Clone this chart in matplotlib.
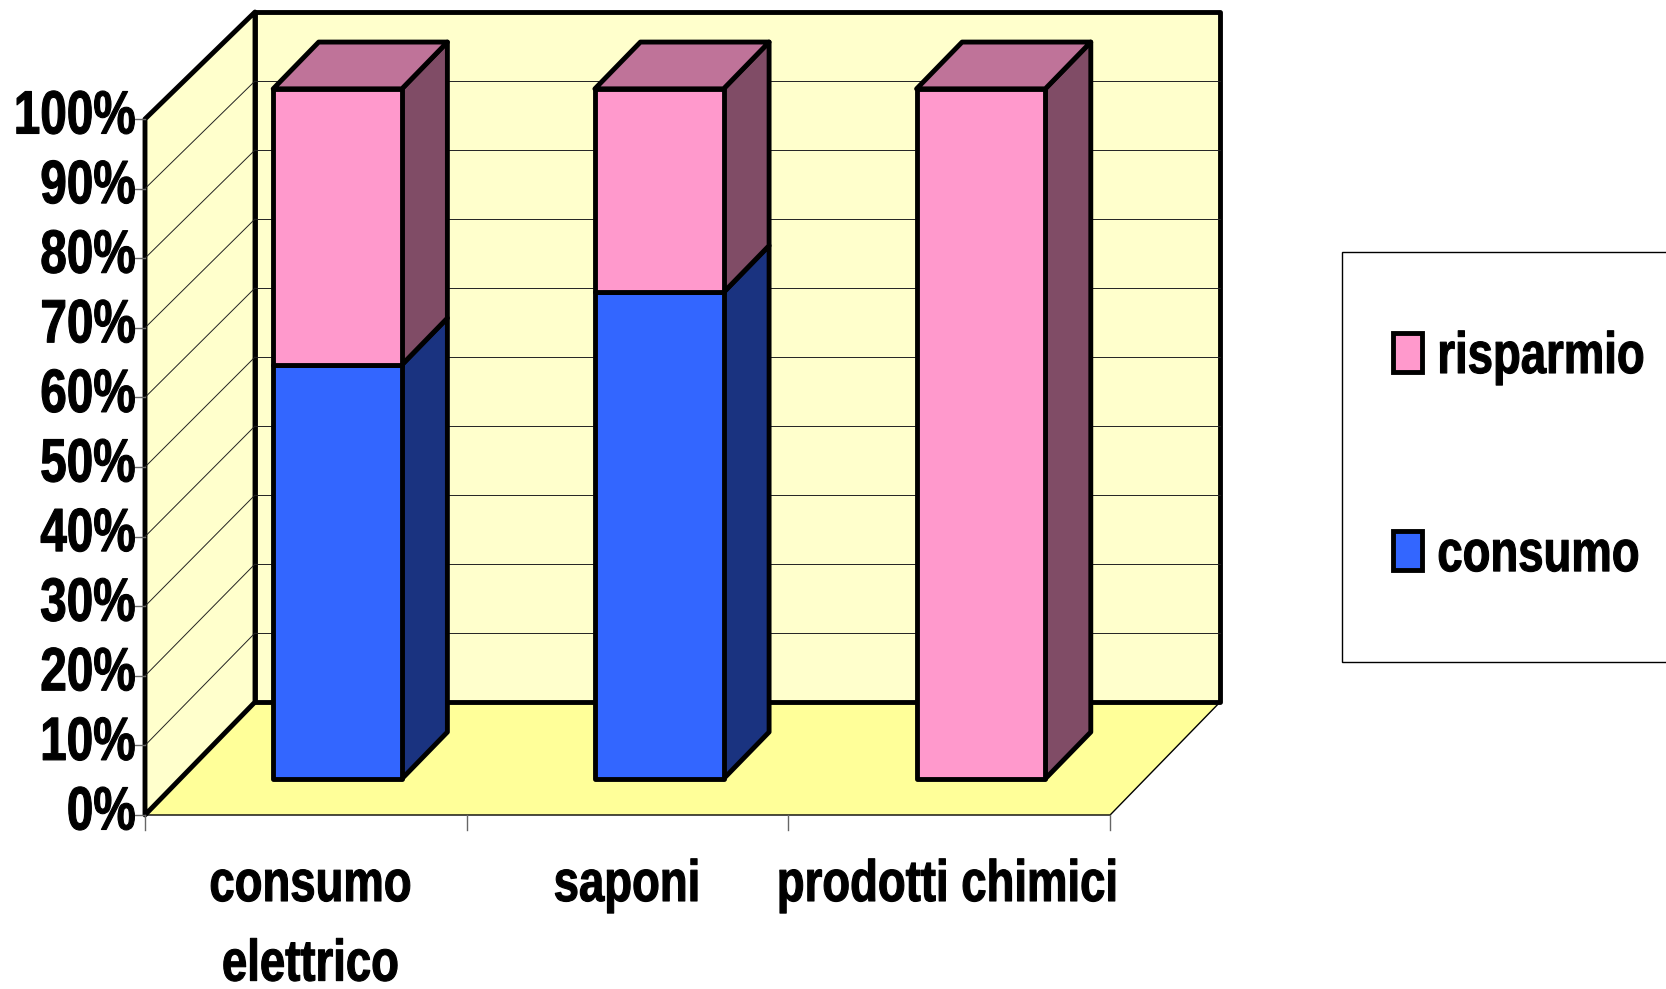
import matplotlib
matplotlib.use('Agg')
import matplotlib.pyplot as plt
from matplotlib.patches import Polygon, Rectangle, Patch
from matplotlib.patheffects import AbstractPathEffect
from matplotlib.transforms import Affine2D

plt.rcParams['font.family'] = ['Liberation Sans']
plt.rcParams['font.weight'] = 'bold'

categories = ['consumo\nelettrico', 'saponi', 'prodotti chimici']
consumo = [60, 70.5, 0]
risparmio = [40, 29.5, 100]
y_ticks = [0, 10, 20, 30, 40, 50, 60, 70, 80, 90, 100]
series_names = ['consumo', 'risparmio']
label_shift = [5, 0, -1]

WALL = '#FFFFCC'
FLOOR = '#FFFF99'
FRONT_COLORS = ['#3366FF', '#FF99CC']
SIDE_COLORS = ['#1A3380', '#804C66']
TOP_COLOR = '#BF7399'

# oblique projection, everything is in figure pixels
X0, Y0 = 145, 815
CAT_W = 321.7
UNIT = 6.9
UNIT_FRONT = 6.96
DX, DY = 110, 113
BAR_W = 0.4
BAR_Z0, BAR_Z1 = 0.32, 0.734
THICK = 3.5


class Squeeze(AbstractPathEffect):
    # the reference font is narrower and heavier than Liberation Sans
    def __init__(self, sx, align='left', bold=0.8):
        super().__init__()
        self.sx = sx
        self.bold = bold
        self.k = {'left': 0, 'center': 0.5, 'right': 1}[align]

    def draw_path(self, renderer, gc, tpath, affine, rgbFace=None):
        shift = self.k * tpath.get_extents().x1 * (1 - self.sx)
        tr = Affine2D().scale(self.sx, 1).translate(shift, 0) + affine
        gc0 = renderer.new_gc()
        gc0.copy_properties(gc)
        gc0.set_linewidth(self.bold)
        renderer.draw_path(gc0, tpath, tr, rgbFace)
        gc0.restore()


def proj(x, y, z):
    unit = UNIT_FRONT if z == 0 else UNIT
    return X0 + x * CAT_W + z * DX, Y0 - y * unit - z * DY


def face(ax, pts, color, lw=THICK, ec='black', z=2):
    ax.add_patch(Polygon([proj(*p) for p in pts], closed=True, fc=color, ec=ec,
                         lw=lw, joinstyle='round', zorder=z))


def line(ax, a, b, lw=0.7, color='#222222', z=1.5):
    pa, pb = proj(*a), proj(*b)
    ax.plot([pa[0], pb[0]], [pa[1], pb[1]], color=color, lw=lw, zorder=z,
            solid_capstyle='round')


def draw_bar(ax, i, base, val, idx, last):
    x0 = i + 0.489 - BAR_W / 2
    x1 = x0 + BAR_W
    y0, y1 = base, base + val
    face(ax, [(x1, y0, BAR_Z0), (x1, y0, BAR_Z1), (x1, y1, BAR_Z1), (x1, y1, BAR_Z0)],
         SIDE_COLORS[idx], z=3)
    if last:
        face(ax, [(x0, y1, BAR_Z0), (x1, y1, BAR_Z0), (x1, y1, BAR_Z1), (x0, y1, BAR_Z1)],
             TOP_COLOR, z=3)
    face(ax, [(x0, y0, BAR_Z0), (x1, y0, BAR_Z0), (x1, y1, BAR_Z0), (x0, y1, BAR_Z0)],
         FRONT_COLORS[idx], z=4)


def main():
    fig = plt.figure(figsize=(16.66, 9.89), dpi=100)
    ax = fig.add_axes([0, 0, 1, 1])
    ax.set_xlim(0, 1666)
    ax.set_ylim(989, 0)
    ax.axis('off')

    n = len(categories)
    # floor and walls
    face(ax, [(0, 0, 0), (n, 0, 0), (n, 0, 1), (0, 0, 1)], FLOOR, lw=1.0, z=1)
    face(ax, [(0, 0, 0), (0, 0, 1), (0, 100, 1), (0, 100, 0)], WALL, z=1.2)
    face(ax, [(0, 0, 1), (n, 0, 1), (n, 100, 1), (0, 100, 1)], WALL, z=1.2)

    # grid
    for t in y_ticks[1:-1]:
        line(ax, (0, t, 0), (0, t, 1))
        line(ax, (0, t, 1), (n, t, 1))
    for t in y_ticks:
        px, py = proj(0, t, 0)
        ax.plot([px - 13, px], [py, py], color='#666666', lw=1.0, zorder=1.5)
        ax.text(px - 9, py - 1, '%d%%' % t, ha='right', va='center', fontsize=44,
                path_effects=[Squeeze(0.78, 'right')])
    for i in range(n + 1):
        px, py = proj(i, 0, 0)
        ax.plot([px, px], [py, py + 15], color='#666666', lw=1.0, zorder=1.5)
    for i, c in enumerate(categories):
        px, py = proj(i + 0.5, 0, 0)
        ax.text(px + label_shift[i], py + 44, c, ha='center', va='top', fontsize=42,
                linespacing=1.61, path_effects=[Squeeze(0.78, 'center')])

    # bars
    for i in range(n):
        if consumo[i] > 0:
            draw_bar(ax, i, 0, consumo[i], 0, risparmio[i] == 0)
        if risparmio[i] > 0:
            draw_bar(ax, i, consumo[i], risparmio[i], 1, True)

    # legend
    ax.add_patch(Rectangle((1342, 252), 340, 410, fc='white', ec='black', lw=1.0, zorder=1))
    handles = [Patch(fc=FRONT_COLORS[1], ec='black', lw=THICK, label=series_names[1]),
               Patch(fc=FRONT_COLORS[0], ec='black', lw=THICK, label=series_names[0])]
    leg = ax.legend(handles=handles, loc='upper left',
                    bbox_to_anchor=(1393 / 1666, 1 - 331 / 989),
                    frameon=False, fontsize=42, borderpad=0, borderaxespad=0,
                    handlelength=0.5, handleheight=0.67, handletextpad=0.26,
                    labelspacing=2.47)
    for t in leg.get_texts():
        t.set_path_effects([Squeeze(0.78)])

    fig.savefig('out.png', dpi=100)


if __name__ == '__main__':
    main()
